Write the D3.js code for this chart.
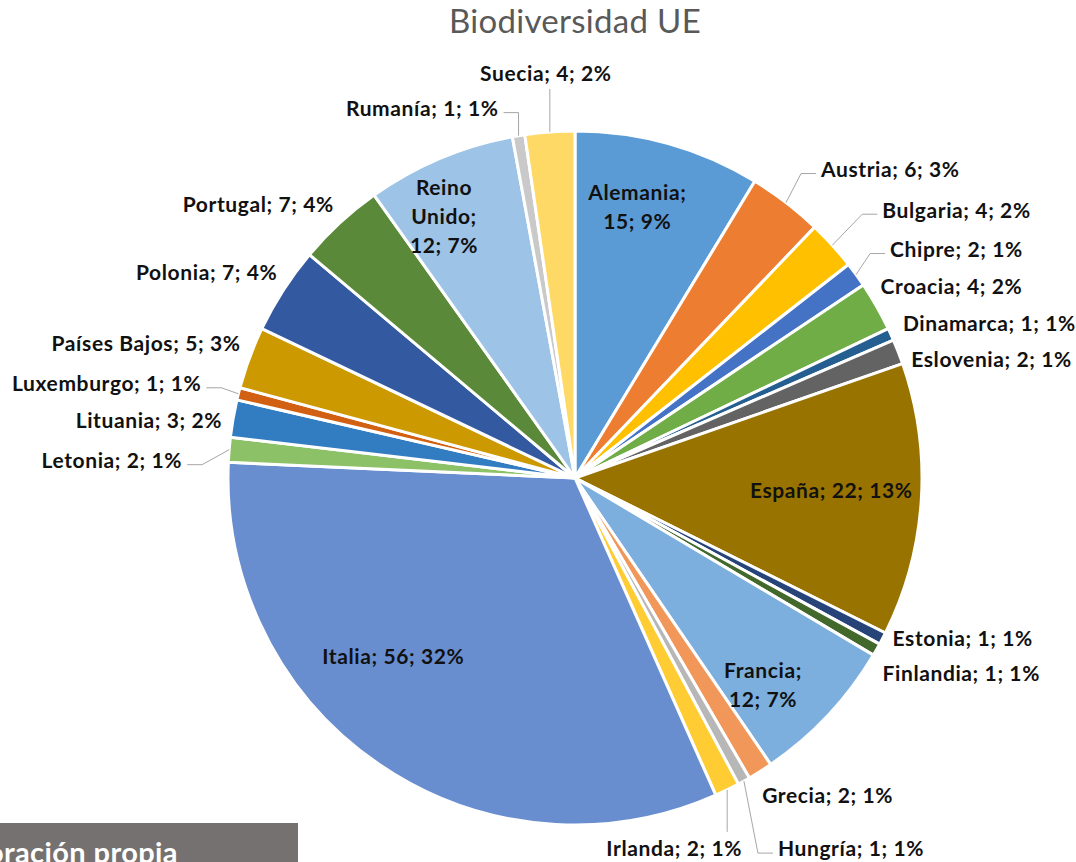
<!DOCTYPE html>
<html>
<head>
<meta charset="utf-8">
<title>Biodiversidad UE</title>
<script src="https://d3js.org/d3.v7.min.js"></script>
<style>
    body { margin:0; background:#fff; }
    svg { display:block; }
    .title { font-family: Lato, sans-serif; font-size: 33px; letter-spacing: 0.3px; fill:#595959; }
    .label { font-family: Lato, sans-serif; font-weight: bold; font-size: 21px; letter-spacing: 0.6px; fill:#111; }
    .leader { fill:none; stroke:#a6a6a6; stroke-width:1; }
    .source { font-family: Lato, sans-serif; font-weight: bold; font-size: 29px; letter-spacing: 0.4px; fill:#fff; }
</style>
</head>
<body>
<svg id="pieSvg" width="1076" height="862"></svg>
<script>
// data
const countries = ['Alemania','Austria','Bulgaria','Chipre','Croacia','Dinamarca','Eslovenia','España',
    'Estonia','Finlandia','Francia','Grecia','Hungría','Irlanda','Italia','Letonia','Lituania',
    'Luxemburgo','Países Bajos','Polonia','Portugal','Reino Unido','Rumanía','Suecia'];
const values = [15, 6, 4, 2, 4, 1, 2, 22, 1, 1, 12, 2, 1, 2, 56, 2, 3, 1, 5, 7, 7, 12, 1, 4];
const colors = ['#5B9BD5','#ED7D31','#FFC000','#4472C4','#70AD47','#255E91','#636363','#997300',
    '#264478','#43682B','#7CAFDD','#F1975A','#B7B7B7','#FFCD33','#698ED0','#8CC168','#327DC2',
    '#D26012','#CC9A00','#335AA1','#5A8A39','#9DC3E6','#C9C9C9','#FFD966'];

// label placement: offset from the slice's outer mid point
// anchor: start/end/middle, leader: h (elbow) / v (vertical), wrap: how to break the text
const labelLayout = [
    {dx:-31, dy:63,  anchor:'middle', wrap:'name'},          // Alemania
    {dx:35,  dy:-33, anchor:'start', leader:'h'},            // Austria
    {dx:50,  dy:-35, anchor:'start', leader:'h'},            // Bulgaria
    {dx:34,  dy:-25, anchor:'start', leader:'h'},            // Chipre
    {dx:4,   dy:-20, anchor:'start'},                        // Croacia
    {dx:12,  dy:-11, anchor:'start'},                        // Dinamarca
    {dx:13,  dy:8,   anchor:'start'},                        // Eslovenia
    {dx:-90, dy:-9,  anchor:'middle'},                       // España
    {dx:10,  dy:0,   anchor:'start'},                        // Estonia
    {dx:6,   dy:24,  anchor:'start'},                        // Finlandia
    {dx:-65, dy:-30, anchor:'middle', wrap:'name'},          // Francia
    {dx:2,   dy:24,  anchor:'start'},                        // Grecia
    {dx:34,  dy:68,  anchor:'start', leader:'h'},            // Hungría
    {dx:-53, dy:59,  anchor:'middle', leader:'v'},           // Irlanda
    {dx:14,  dy:-108,anchor:'middle'},                       // Italia
    {dx:-47, dy:11,  anchor:'end', leader:'h'},              // Letonia
    {dx:-11, dy:2,   anchor:'end'},                          // Lituania
    {dx:-37, dy:-10, anchor:'end', leader:'h'},              // Luxemburgo
    {dx:-9,  dy:-14, anchor:'end'},                          // Países Bajos
    {dx:-6,  dy:-18, anchor:'end'},                          // Polonia
    {dx:-6,  dy:-18, anchor:'end'},                          // Portugal
    {dx:4,   dy:58,  anchor:'middle', wrap:'words'},         // Reino Unido
    {dx:-20, dy:-27, anchor:'end', leader:'h'},              // Rumanía
    {dx:-4,  dy:-58, anchor:'middle', leader:'v'}            // Suecia
];

const svg = d3.select('#pieSvg');
const cx = 575, cy = 478, radius = 347;
const lineH = 29;

svg.append('text')
    .attr('class','title')
    .attr('x', cx)
    .attr('y', 33)
    .attr('text-anchor','middle')
    .text('Biodiversidad UE');

const data = countries.map((c, i) => ({name: c, value: values[i], color: colors[i], layout: labelLayout[i]}));
const total = d3.sum(values);

const pie = d3.pie().sort(null).value(d => d.value);
const arcs = pie(data);
const arc = d3.arc().innerRadius(0).outerRadius(radius);
const edge = d3.arc().innerRadius(radius).outerRadius(radius);

const g = svg.append('g').attr('transform', `translate(${cx},${cy})`);

g.selectAll('path.slice')
    .data(arcs)
    .enter()
    .append('path')
    .attr('class','slice')
    .attr('d', arc)
    .attr('fill', d => d.data.color)
    .attr('stroke', '#fff')
    .attr('stroke-width', 3)
    .attr('stroke-linejoin', 'round');

function labelLines(d) {
    const pct = Math.round(d.data.value / total * 100);
    const tail = `${d.data.value}; ${pct}%`;
    const w = d.data.layout.wrap;
    if (w === 'name') return [d.data.name + ';', tail];
    if (w === 'words') {
        const words = d.data.name.split(' ');
        words[words.length - 1] += ';';
        return words.concat([tail]);
    }
    return [`${d.data.name}; ${tail}`];
}

// leader lines
arcs.forEach(d => {
    const L = d.data.layout;
    if (!L.leader) return;
    const p = edge.centroid(d);
    const lx = p[0] + L.dx, ly = p[1] + L.dy;
    let pts;
    if (L.leader === 'h') {
        const side = L.anchor === 'start' ? 1 : -1;
        pts = [p, [lx - side * 20, ly + 4], [lx - side * 5, ly + 4]];
    } else {
        const up = ly < p[1];
        pts = [p, [p[0], up ? ly + 15 : ly - 17]];
    }
    g.append('path')
        .attr('class','leader')
        .attr('d', d3.line()(pts));
});

// labels
arcs.forEach(d => {
    const L = d.data.layout;
    const p = edge.centroid(d);
    const lines = labelLines(d);
    const x = p[0] + L.dx;
    const y0 = p[1] + L.dy - (lines.length - 1) * lineH / 2;
    const t = g.append('text')
        .attr('class','label')
        .attr('text-anchor', L.anchor);
    lines.forEach((s, i) => {
        t.append('tspan')
            .attr('x', x)
            .attr('y', y0 + i * lineH)
            .attr('dy', '0.35em')
            .text(s);
    });
});

// source box, cut by the page edge as in the original
svg.append('rect')
    .attr('x', 0).attr('y', 823)
    .attr('width', 298).attr('height', 45)
    .attr('fill', '#767171');
svg.append('text')
    .attr('class','source')
    .attr('x', 178).attr('y', 863)
    .attr('text-anchor','end')
    .text('Elaboración propia');
</script>
</body>
</html>
